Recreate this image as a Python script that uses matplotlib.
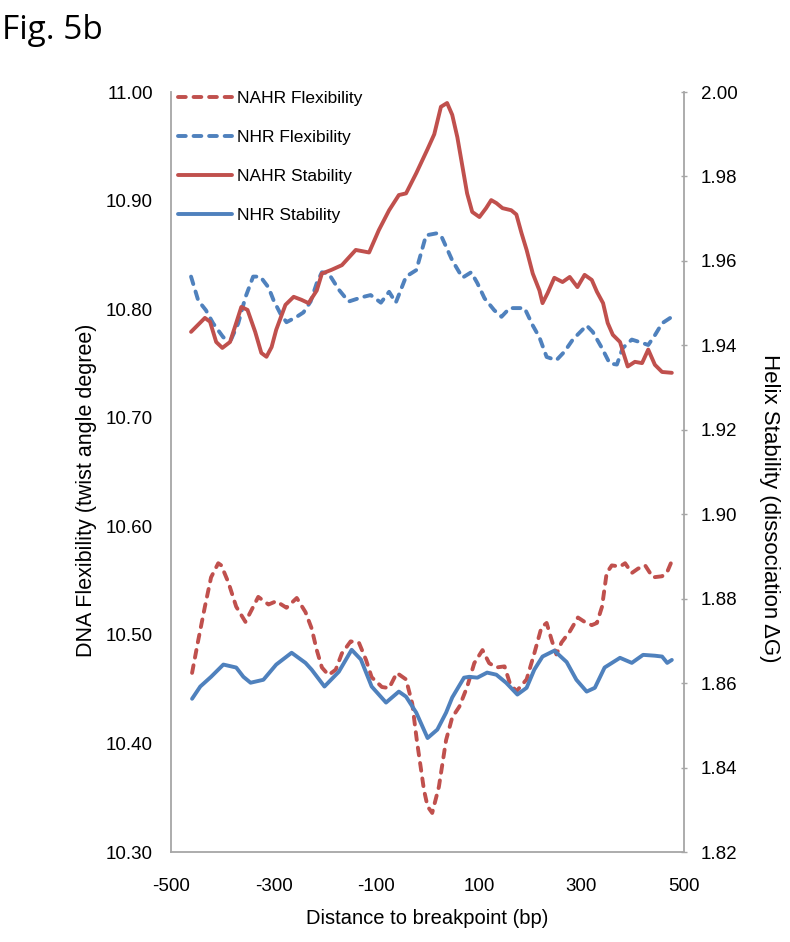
import matplotlib
matplotlib.use("Agg")
import matplotlib.pyplot as plt

# distance to breakpoint (bp) and values
nahr_flex_x = [-459, -447, -434, -422, -408, -402, -388, -373, -355, -343, -330, -310,
               -295, -275, -255, -238, -226, -216, -206, -193, -179, -167, -150, -134,
               -120, -109, -89, -75, -60, -42, -30, -21, -7, 0, 9, 22, 36, 48, 62, 77,
               91, 107, 120, 134, 150, 160, 173, 193, 208, 222, 232, 242, 251, 261, 277,
               293, 306, 320, 330, 340, 349, 359, 375, 385, 398, 410, 424, 439, 457, 467, 475]
nahr_flex = [10.465, 10.495, 10.526, 10.553, 10.566, 10.564, 10.548, 10.526, 10.512, 10.523,
             10.535, 10.528, 10.531, 10.525, 10.534, 10.521, 10.506, 10.486, 10.470, 10.463,
             10.468, 10.483, 10.494, 10.493, 10.477, 10.461, 10.452, 10.451, 10.465, 10.459,
             10.437, 10.403, 10.357, 10.342, 10.336, 10.360, 10.403, 10.424, 10.434, 10.452,
             10.474, 10.486, 10.474, 10.470, 10.471, 10.456, 10.448, 10.459, 10.483, 10.507,
             10.511, 10.495, 10.482, 10.493, 10.503, 10.516, 10.512, 10.509, 10.511, 10.526,
             10.557, 10.564, 10.563, 10.566, 10.557, 10.561, 10.564, 10.553, 10.554, 10.558,
             10.567]

nhr_flex_x = [-461, -447, -432, -418, -398, -383, -369, -355, -340, -326, -310, -300, -287,
              -275, -255, -242, -228, -216, -206, -193, -173, -154, -128, -111, -91, -75,
              -62, -42, -22, -3, 19, 28, 48, 68, 85, 97, 111, 130, 144, 160, 175, 189, 205,
              218, 232, 251, 267, 283, 310, 322, 340, 355, 369, 380, 398, 418, 430, 443,
              457, 473]
nhr_flex = [10.830, 10.808, 10.799, 10.787, 10.774, 10.772, 10.787, 10.811, 10.830, 10.830,
            10.820, 10.808, 10.796, 10.788, 10.793, 10.797, 10.807, 10.824, 10.834, 10.833,
            10.818, 10.807, 10.811, 10.813, 10.806, 10.816, 10.806, 10.830, 10.836, 10.868,
            10.870, 10.866, 10.845, 10.829, 10.834, 10.824, 10.810, 10.799, 10.793, 10.801,
            10.801, 10.801, 10.785, 10.774, 10.756, 10.753, 10.761, 10.772, 10.785, 10.779,
            10.764, 10.750, 10.749, 10.764, 10.772, 10.769, 10.767, 10.776, 10.787, 10.792]

nahr_stab_x = [-461, -434, -424, -412, -400, -385, -373, -363, -351, -336, -324, -314, -304,
               -295, -277, -261, -246, -232, -216, -206, -187, -167, -140, -114, -95, -75,
               -56, -42, -22, 0, 13, 26, 38, 48, 58, 68, 77, 87, 101, 114, 124, 134, 146,
               163, 173, 183, 193, 205, 218, 224, 234, 247, 263, 277, 292, 306, 320, 330,
               342, 351, 361, 375, 384, 390, 404, 418, 430, 443, 457, 476]
nahr_stab = [1.9432, 1.9465, 1.9456, 1.9408, 1.9394, 1.9408, 1.9453, 1.9491, 1.9484, 1.9432,
             1.9382, 1.9373, 1.9396, 1.9437, 1.9496, 1.9515, 1.9508, 1.9500, 1.9530, 1.9570,
             1.9579, 1.9590, 1.9626, 1.9620, 1.9673, 1.9720, 1.9756, 1.9760, 1.9808, 1.9865,
             1.9900, 1.9965, 1.9974, 1.9946, 1.9893, 1.9823, 1.9760, 1.9716, 1.9704, 1.9725,
             1.9744, 1.9737, 1.9725, 1.9720, 1.9710, 1.9666, 1.9626, 1.9570, 1.9530, 1.9500,
             1.9524, 1.9560, 1.9550, 1.9562, 1.9538, 1.9567, 1.9555, 1.9527, 1.9500, 1.9453,
             1.9425, 1.9408, 1.9373, 1.9350, 1.9361, 1.9358, 1.9390, 1.9354, 1.9337, 1.9335]

nhr_stab_x = [-459, -443, -422, -398, -373, -359, -345, -320, -295, -265, -238, -226, -201,
              -173, -148, -130, -109, -81, -56, -42, -22, 0, 19, 36, 48, 71, 81, 97, 116,
              134, 153, 175, 193, 208, 224, 247, 271, 290, 310, 326, 345, 375, 398, 420,
              443, 457, 467, 476]
nhr_stab = [1.8563, 1.8592, 1.8615, 1.8644, 1.8637, 1.8615, 1.8601, 1.8608, 1.8644, 1.8672,
            1.8648, 1.8632, 1.8592, 1.8627, 1.8679, 1.8656, 1.8592, 1.8554, 1.8580, 1.8568,
            1.8530, 1.8470, 1.8490, 1.8530, 1.8566, 1.8613, 1.8615, 1.8613, 1.8625, 1.8620,
            1.8601, 1.8573, 1.8589, 1.8632, 1.8663, 1.8677, 1.8650, 1.8608, 1.8580, 1.8589,
            1.8637, 1.8660, 1.8648, 1.8667, 1.8665, 1.8663, 1.8648, 1.8655]

x_ticks = [-500, -300, -100, 100, 300, 500]
left_ticks = [10.30, 10.40, 10.50, 10.60, 10.70, 10.80, 10.90, 11.00]
right_ticks = [1.82, 1.84, 1.86, 1.88, 1.90, 1.92, 1.94, 1.96, 1.98, 2.00]

RED = "#C0504D"
BLUE = "#4F81BD"
AXIS = "#A6A6A6"

plt.rcParams["font.family"] = ["Liberation Sans", "DejaVu Sans"]
plt.rcParams["axes.unicode_minus"] = False

fig = plt.figure(figsize=(7.9, 9.42), dpi=100)
ax = fig.add_axes([0.2165, 0.0955, 0.6495, 0.8068])
ax2 = ax.twinx()

dash = dict(linestyle=(0, (2, 2)), dash_capstyle="round", lw=2.8)
solid = dict(lw=2.8, solid_capstyle="round", solid_joinstyle="round")

l1, = ax.plot(nahr_flex_x, nahr_flex, color=RED, **dash)
l2, = ax.plot(nhr_flex_x, nhr_flex, color=BLUE, **dash)
l3, = ax2.plot(nahr_stab_x, nahr_stab, color=RED, **solid)
l4, = ax2.plot(nhr_stab_x, nhr_stab, color=BLUE, **solid)

ax.set_xlim(-500, 500)
ax.set_ylim(10.30, 11.00)
ax2.set_ylim(1.82, 2.00)

ax.set_xticks(x_ticks)
ax.set_yticks(left_ticks)
ax2.set_yticks(right_ticks)
ax.set_yticklabels([f"{v:.2f}" for v in left_ticks])
ax2.set_yticklabels([f"{v:.2f}" for v in right_ticks])

for a in (ax, ax2):
    for s in a.spines.values():
        s.set_visible(False)
ax.spines["left"].set_visible(True)
ax.spines["bottom"].set_visible(True)
ax2.spines["right"].set_visible(True)
for s in (ax.spines["left"], ax.spines["bottom"], ax2.spines["right"]):
    s.set_color(AXIS)
    s.set_linewidth(1.3)

ax.tick_params(axis="y", length=0, pad=13, labelsize=13.5)
ax.tick_params(axis="x", length=0, pad=19, labelsize=13.5)
ax2.tick_params(axis="y", length=4, width=1, color=AXIS, direction="inout",
                pad=10, labelsize=13.5)

ax.set_xlabel("Distance to breakpoint (bp)", fontsize=14.5, labelpad=10)
ax.set_ylabel("DNA Flexibility (twist angle degree)", fontsize=15.5)
ax2.set_ylabel("Helix Stability (dissociation \u0394G)", fontsize=16, rotation=270)
ax.yaxis.set_label_coords(-0.144, 0.476)
ax2.yaxis.set_label_coords(1.187, 0.453)

ax2.legend([l1, l2, l3, l4],
           ["NAHR Flexibility", "NHR Flexibility", "NAHR Stability", "NHR Stability"],
           loc="upper left", bbox_to_anchor=(0.0, 1.011), frameon=False,
           fontsize=12.5, handlelength=3.1, handletextpad=0.3, labelspacing=1.37,
           borderaxespad=0.0)

fig.text(0.003, 0.985, "Fig. 5b", fontsize=24, family=["Open Sans", "DejaVu Sans"],
         va="top", ha="left")

fig.savefig("out.png", dpi=100)
